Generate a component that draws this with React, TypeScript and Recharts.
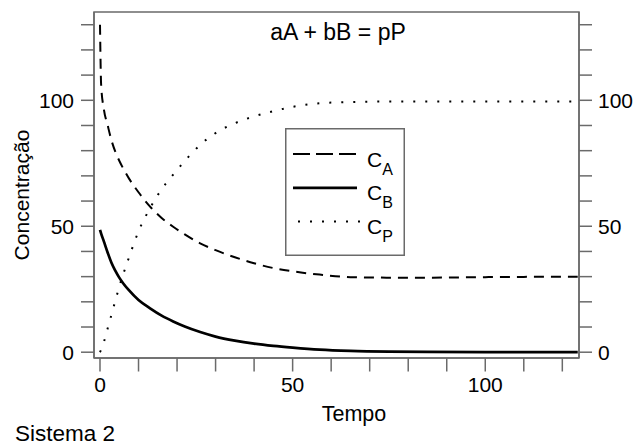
import React from 'react';
import { LineChart, Line, XAxis, YAxis, Legend, ReferenceArea } from 'recharts';

// ---- data ----
const time = [0, 0.3, 1, 2, 3, 4, 5, 6, 7.5, 10, 13, 16, 19, 22, 26, 30, 35, 40, 45, 50, 57, 65, 75, 85, 100, 110, 124];
const concA = [130, 106, 96.5, 90, 84, 79.5, 76, 73, 69, 63.5, 57.8, 53.3, 49.8, 46.8, 43.2, 40.5, 37.7, 35.3, 33.4, 32.1, 30.8, 29.8, 29.6, 29.6, 29.8, 29.9, 30];
const concB = [48.6, 47.1, 44, 39.5, 35.4, 32.3, 29.6, 27.4, 24.6, 20.7, 17.4, 14.5, 12.2, 10.2, 8.0, 6.2, 4.6, 3.4, 2.5, 1.8, 1.0, 0.5, 0.2, 0.1, 0, 0, 0];
const concP = [0, 1, 4, 9.5, 15, 20.5, 26, 30.8, 37.5, 48, 57.2, 64.7, 70.5, 75.9, 82.3, 87, 90.9, 93.6, 95.7, 97.4, 98.8, 99.3, 99.5, 99.5, 99.5, 99.5, 99.5];

const xTicks = [0, 10, 20, 30, 40, 50, 60, 70, 80, 90, 100, 110, 120];
const xLabeled = [0, 50, 100];
const yTicks = [0, 10, 20, 30, 40, 50, 60, 70, 80, 90, 100, 110, 120, 130];
const yLabeled = [0, 50, 100];

const seriesNames = ['A', 'B', 'P'];
const title = 'aA + bB = pP';
const xTitle = 'Tempo';
const yTitle = 'Concentração';
const caption = 'Sistema 2';

const data = time.map((t, i) => ({ t, ca: concA[i], cb: concB[i], cp: concP[i] }));

// ---- styles ----
const FONT = '"Liberation Sans", Arial, Helvetica, sans-serif';
const FRAME = '#6a6a6a';
const FS = 21;
const xDomain: [number, number] = [-1.557, 124.33];
const yDomain: [number, number] = [-2.3, 135.05];

const fmtX = (v: number) => (xLabeled.includes(v) ? String(v) : '');
const fmtY = (v: number) => (yLabeled.includes(v) ? String(v) : '');

const lineStyles = [
  { key: 'ca', dash: '10 7', legendDash: '17 6', width: 2 },
  { key: 'cb', dash: undefined, legendDash: undefined, width: 2.7 },
  { key: 'cp', dash: '2 10', legendDash: '2 10', width: 2 },
];

const textProps = { fontFamily: FONT, fill: '#000' };

const xLabel = () => (
  <g>
    <text x={354} y={421} textAnchor="middle" fontSize={21.5} {...textProps}>{xTitle}</text>
    <text x={15} y={441} textAnchor="start" fontSize={22.5} {...textProps}>{caption}</text>
  </g>
);

const yLabel = () => (
  <g>
    <text x={28.5} y={195} transform="rotate(-90 28.5 195)" textAnchor="middle" fontSize={21} {...textProps}>{yTitle}</text>
    <text x={338} y={40} textAnchor="middle" fontSize={23} {...textProps}>{title}</text>
  </g>
);

const LegendBox = () => (
  <svg width={120} height={128} style={{ display: 'block' }}>
    <rect x={0.75} y={0.75} width={118.5} height={126.5} fill="#fff" stroke={FRAME} strokeWidth={1.5} />
    {seriesNames.map((s, i) => {
      const y = 26 + i * 33.8;
      const st = lineStyles[i];
      const x1 = st.legendDash === '2 10' ? 13 : 8;
      const x2 = st.legendDash === '2 10' ? 75 : 72;
      return (
        <g key={s}>
          <line x1={x1} x2={x2} y1={y} y2={y} stroke="#000" strokeWidth={st.width} strokeDasharray={st.legendDash} />
          <text x={82} y={y + 12.5} fontSize={FS} fontFamily={FONT} fill="#000">
            C<tspan fontSize={16} dy={8}>{s}</tspan>
          </text>
        </g>
      );
    })}
  </svg>
);

export default function App() {
  const axisLine = { stroke: FRAME, strokeWidth: 1.5 };
  const tickLine = { stroke: FRAME, strokeWidth: 1.5 };
  const tick = { fill: '#000', fontSize: FS, fontFamily: FONT };
  return (
    <div style={{ position: 'absolute', left: 0, top: 0, width: 636, height: 446, background: '#fff' }}>
      <LineChart width={636} height={446} data={data} margin={{ top: 12, right: 0, bottom: 0, left: 0 }}>
        <XAxis
          xAxisId="bottom"
          dataKey="t"
          type="number"
          domain={xDomain}
          allowDataOverflow
          ticks={xTicks}
          interval={0}
          tickFormatter={fmtX}
          tickSize={13.5}
          tickMargin={6}
          height={88}
          axisLine={axisLine}
          tickLine={tickLine}
          tick={tick}
          label={xLabel}
        />
        <YAxis
          yAxisId="left"
          type="number"
          domain={yDomain}
          allowDataOverflow
          ticks={yTicks}
          interval={0}
          tickFormatter={fmtY}
          tickSize={13}
          tickMargin={7}
          width={94}
          axisLine={axisLine}
          tickLine={tickLine}
          tick={tick}
          label={yLabel}
        />
        <YAxis
          yAxisId="right"
          orientation="right"
          type="number"
          domain={yDomain}
          allowDataOverflow
          ticks={yTicks}
          interval={0}
          tickFormatter={fmtY}
          tickSize={13}
          tickMargin={6}
          width={57}
          axisLine={axisLine}
          tickLine={tickLine}
          tick={tick}
        />
        <ReferenceArea
          xAxisId="bottom"
          yAxisId="left"
          x1={xDomain[0]}
          x2={xDomain[1]}
          y1={yDomain[0]}
          y2={yDomain[1]}
          fill="none"
          fillOpacity={0}
          stroke={FRAME}
          strokeWidth={1.5}
          ifOverflow="visible"
        />
        <Legend
          layout="vertical"
          align="center"
          verticalAlign="middle"
          content={LegendBox}
          wrapperStyle={{ left: 285, top: 128, width: 120, height: 128 }}
        />
        {lineStyles.map((st) => (
          <Line
            key={st.key}
            xAxisId="bottom"
            yAxisId="left"
            type="monotone"
            dataKey={st.key}
            stroke="#000"
            strokeWidth={st.width}
            strokeDasharray={st.dash}
            dot={false}
            activeDot={false}
            isAnimationActive={false}
          />
        ))}
      </LineChart>
    </div>
  );
}
